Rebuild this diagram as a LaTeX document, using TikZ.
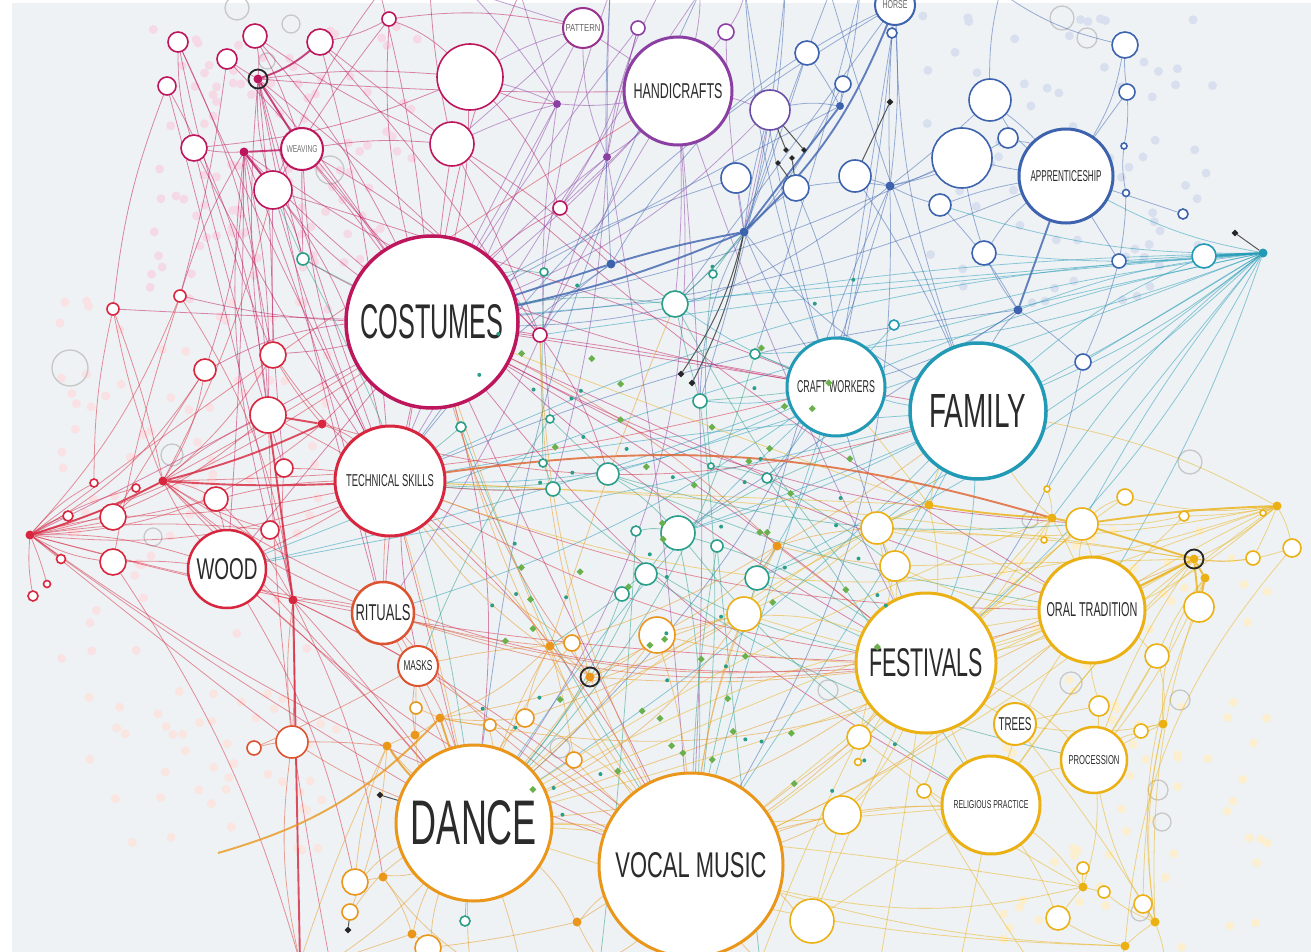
\documentclass[tikz,border=0pt]{standalone}
\usepackage{graphicx}
\usepackage{fontspec}
\newfontfamily\lab{Liberation Sans}
\usetikzlibrary{shapes.geometric}
\definecolor{bgc}{HTML}{EEF2F5}
\definecolor{mag}{HTML}{BE165C}
\definecolor{red}{HTML}{D7263D}
\definecolor{ored}{HTML}{DD5330}
\definecolor{org}{HTML}{E9961B}
\definecolor{yel}{HTML}{EBB114}
\definecolor{tea}{HTML}{2299B5}
\definecolor{blu}{HTML}{3D63AE}
\definecolor{pur}{HTML}{8B3FA3}
\definecolor{grn}{HTML}{2A9E88}
\definecolor{lgr}{HTML}{6AB04C}
\definecolor{txt}{HTML}{2B2B2B}
\pgfdeclarelayer{bgl}
\pgfdeclarelayer{edges}
\pgfsetlayers{bgl,edges,main}
\newcommand\lbl[3]{\resizebox{#1pt}{#2pt}{\lab #3}}
\newcommand\smallc[5]{\node[sn=#5, minimum size=#4pt] (#1) at (#2,#3) {};}
% thin connectors: given bend plus a small varying bend
\newcommand\edgeset[2]{\foreach \ea/\eb/\ec in {#2}{\pgfmathsetmacro\bb{\ec+22*(rnd-0.5)}\draw[#1] (\ea) to[bend left=\bb] (\eb);}}
% fixed-bend connectors
\newcommand\edgesetx[2]{\foreach \ea/\eb/\ec in {#2}{\draw[#1] (\ea) to[bend left=\ec] (\eb);}}
\tikzset{
  sn/.style={circle, draw=#1, fill=white, line width=1.6pt, inner sep=0pt, outer sep=0pt},
  bn/.style={circle, draw=#1, fill=white, line width=3pt, inner sep=0pt, outer sep=0pt, text=txt},
  hub/.style={circle, fill=#1, inner sep=0pt, outer sep=0pt, minimum size=9pt},
  ring/.style={circle, draw=black!85, line width=1.8pt, inner sep=0pt, minimum size=19pt},
  e/.style={draw=#1, line width=0.8pt, opacity=0.5},
  E/.style={draw=#1, line width=1.9pt, opacity=0.8},
  dk/.style={draw=black!80, line width=1pt, opacity=0.8},
  dmd/.style={diamond, fill=black!85, inner sep=0pt, minimum size=7pt},
}
\begin{document}
\begin{tikzpicture}[x=1pt,y=-1pt]
\useasboundingbox (0,0) rectangle (1311,952);
\clip (0,0) rectangle (1311,952);
\begin{pgfonlayer}{bgl}
\fill[white] (0,0) rectangle (1311,952);
\fill[bgc] (12,3) rectangle (1311,952);
% faint dot clouds
\pgfmathsetseed{11}
\foreach \i in {1,...,110}{
  \pgfmathsetmacro\px{150+270*rnd}\pgfmathsetmacro\py{25+300*rnd}
  \fill[mag!16] (\px,\py) circle (4.5pt);}
\foreach \i in {1,...,80}{
  \pgfmathsetmacro\px{60+270*rnd}\pgfmathsetmacro\py{300+360*rnd}
  \fill[red!14] (\px,\py) circle (4.5pt);}
\foreach \i in {1,...,45}{
  \pgfmathsetmacro\px{80+260*rnd}\pgfmathsetmacro\py{690+160*rnd}
  \fill[ored!15] (\px,\py) circle (4.5pt);}
\foreach \i in {1,...,75}{
  \pgfmathsetmacro\px{920+300*rnd}\pgfmathsetmacro\py{15+290*rnd}
  \fill[blu!20] (\px,\py) circle (4.5pt);}
\foreach \i in {1,...,90}{
  \pgfmathsetmacro\px{1000+270*rnd}\pgfmathsetmacro\py{530+420*rnd}
  \fill[yel!20] (\px,\py) circle (4.5pt);}
\foreach \i in {1,...,60}{
  \pgfmathsetmacro\px{480+420*rnd}\pgfmathsetmacro\py{300+500*rnd}
  \fill[grn!10] (\px,\py) circle (4pt);}
% faint rings
\foreach \x/\y/\r in {70/368/18, 237/8/12, 291/24/9, 267/61/8, 1062/18/12, 1087/38/10,
  1190/462/12, 1071/683/11, 1158/790/10, 1162/822/9, 1140/912/9, 172/455/11, 153/537/9,
  330/170/14, 1180/700/10, 828/690/10, 560/748/10, 1030/520/8}{
  \draw[black!22, line width=1.3pt] (\x,\y) circle (\r pt);}
\end{pgfonlayer}

% ===== labelled nodes =====
\node[bn=mag, minimum size=172pt, line width=3.5pt] (costumes) at (432,322) {\lbl{143}{34}{COSTUMES}};
\node[bn=tea, minimum size=136pt, line width=3.5pt] (family) at (978,411) {\lbl{97}{33}{FAMILY}};
\node[bn=org, minimum size=156pt] (dance) at (474,823) {\lbl{126}{44}{DANCE}};
\node[bn=org, minimum size=184pt] (vocal) at (691,865) {\lbl{151}{25}{VOCAL MUSIC}};
\node[bn=yel, minimum size=140pt] (festivals) at (926,663) {\lbl{114}{28}{FESTIVALS}};
\node[bn=pur, minimum size=108pt] (handicrafts) at (678,91) {\lbl{89}{15}{HANDICRAFTS}};
\node[bn=blu, minimum size=94pt] (apprent) at (1066,176) {\lbl{71}{11}{APPRENTICESHIP}};
\node[bn=tea, minimum size=98pt] (craft) at (836,387) {\lbl{78}{12}{CRAFT WORKERS}};
\node[bn=red, minimum size=110pt] (techskills) at (390,481) {\lbl{88}{12}{TECHNICAL SKILLS}};
\node[bn=red, minimum size=78pt, line width=2.5pt] (wood) at (227,569) {\lbl{61}{21}{WOOD}};
\node[bn=ored, minimum size=62pt, line width=2.5pt] (rituals) at (383,613) {\lbl{55}{16}{RITUALS}};
\node[bn=ored, minimum size=40pt, line width=2pt] (masks) at (418,666) {\lbl{29}{10}{MASKS}};
\node[bn=yel, minimum size=106pt] (oral) at (1092,610) {\lbl{91}{14}{ORAL TRADITION}};
\node[bn=yel, minimum size=42pt, line width=2pt] (trees) at (1015,724) {\lbl{33}{13}{TREES}};
\node[bn=yel, minimum size=66pt, line width=2.5pt] (procession) at (1094,760) {\lbl{51}{9}{PROCESSION}};
\node[bn=yel, minimum size=98pt] (religious) at (991,805) {\lbl{75}{8}{RELIGIOUS PRACTICE}};
\node[bn=mag, minimum size=42pt, line width=2pt, text=black!55] (weaving) at (302,149) {\lbl{31}{7}{WEAVING}};
\node[bn=pur!70!mag, minimum size=40pt, line width=2pt, text=black!60] (pattern) at (583,28) {\lbl{35}{7}{PATTERN}};
\node[bn=blu, minimum size=40pt, line width=2pt, text=black!60] (horse) at (895,5) {\lbl{25}{8}{HORSE}};

% ===== small circles =====
\smallc{a1}{178}{42}{20}{mag}\smallc{a2}{227}{59}{20}{mag}\smallc{a3}{255}{36}{24}{mag}
\smallc{a4}{320}{42}{26}{mag}\smallc{a5}{167}{86}{18}{mag}\smallc{a6}{194}{148}{26}{mag}
\smallc{a7}{273}{190}{38}{mag}\smallc{a8}{470}{77}{66}{mag}\smallc{a9}{452}{144}{44}{mag}
\smallc{a10}{389}{19}{14}{mag}\smallc{a11}{560}{208}{14}{mag}\smallc{a12}{540}{335}{14}{mag}
\smallc{a13}{180}{296}{12}{red}\smallc{a14}{113}{309}{12}{red}\smallc{a15}{205}{370}{22}{red}
\smallc{a16}{273}{355}{26}{red}\smallc{a17}{268}{415}{36}{red}\smallc{a18}{284}{468}{18}{red}
\smallc{a19}{216}{499}{24}{red}\smallc{a20}{113}{517}{26}{red}\smallc{a21}{113}{562}{26}{red}
\smallc{a22}{270}{530}{18}{red}\smallc{a23}{292}{742}{32}{ored}\smallc{a24}{254}{748}{14}{ored}
\smallc{a25}{94}{483}{8}{red}\smallc{a26}{68}{516}{10}{red}\smallc{a27}{61}{559}{9}{red}
\smallc{a28}{47}{584}{7}{red}\smallc{a29}{33}{596}{10}{red}\smallc{a30}{136}{488}{8}{red}
\smallc{b1}{638}{28}{14}{pur}\smallc{b2}{726}{32}{16}{pur}\smallc{b3}{770}{110}{40}{pur!60!blu}
\smallc{b4}{736}{178}{30}{blu}\smallc{b5}{796}{188}{26}{blu}\smallc{b6}{807}{53}{24}{blu}
\smallc{b7}{855}{176}{32}{blu}\smallc{b8}{843}{84}{16}{blu}\smallc{b9}{892}{33}{10}{blu}
\smallc{b10}{990}{100}{42}{blu}\smallc{b11}{962}{158}{60}{blu}\smallc{b12}{1008}{138}{20}{blu}
\smallc{b13}{940}{205}{22}{blu}\smallc{b14}{984}{253}{24}{blu}\smallc{b15}{1125}{45}{26}{blu}
\smallc{b16}{1127}{92}{16}{blu}\smallc{b17}{1119}{261}{14}{blu}\smallc{b18}{1183}{214}{10}{blu}
\smallc{b19}{1204}{256}{24}{tea}\smallc{b20}{1083}{362}{16}{blu}\smallc{b21}{894}{325}{10}{tea}
\smallc{b22}{1124}{146}{6}{blu}\smallc{b23}{1126}{193}{7}{blu}
\smallc{g1}{303}{259}{12}{grn}\smallc{g2}{675}{304}{26}{grn}\smallc{g3}{700}{401}{14}{grn}
\smallc{g4}{608}{474}{22}{grn}\smallc{g5}{553}{489}{14}{grn}\smallc{g6}{678}{533}{34}{grn}
\smallc{g7}{646}{574}{22}{grn}\smallc{g8}{757}{578}{24}{grn}\smallc{g9}{717}{546}{12}{grn}
\smallc{g10}{622}{594}{14}{grn}\smallc{g11}{461}{427}{10}{grn}\smallc{g12}{755}{354}{10}{grn}
\smallc{g13}{767}{478}{10}{grn}\smallc{g14}{636}{531}{10}{grn}\smallc{g15}{544}{272}{8}{grn}
\smallc{g16}{713}{274}{8}{grn}\smallc{g17}{550}{419}{8}{grn}\smallc{g18}{543}{463}{8}{grn}
\smallc{g19}{711}{466}{6}{grn}\smallc{g20}{465}{921}{10}{grn}
\smallc{y1}{877}{528}{32}{yel}\smallc{y2}{895}{566}{30}{yel}\smallc{y3}{1082}{524}{32}{yel}
\smallc{y4}{1125}{497}{16}{yel}\smallc{y5}{1199}{607}{30}{yel}\smallc{y6}{1253}{558}{14}{yel}
\smallc{y7}{1292}{548}{18}{yel}\smallc{y8}{1157}{656}{24}{yel}\smallc{y9}{1184}{516}{10}{yel}
\smallc{y11}{744}{614}{34}{yel}\smallc{y12}{859}{737}{24}{yel}\smallc{y13}{842}{815}{38}{yel}
\smallc{y14}{924}{791}{14}{yel}\smallc{y15}{1099}{706}{20}{yel}\smallc{y16}{1141}{731}{14}{yel}
\smallc{y17}{812}{921}{44}{yel}\smallc{y18}{1058}{918}{24}{yel}\smallc{y19}{1143}{904}{18}{yel}
\smallc{y20}{1083}{868}{12}{yel}\smallc{y21}{1104}{892}{12}{yel}\smallc{y22}{1047}{489}{6}{yel}
\smallc{y23}{1044}{540}{6}{yel}\smallc{y24}{1263}{513}{6}{yel}\smallc{y25}{858}{762}{7}{yel}
\smallc{o1}{657}{635}{36}{org}\smallc{o2}{572}{643}{16}{org}\smallc{o3}{525}{718}{18}{org}
\smallc{o4}{490}{725}{12}{org}\smallc{o5}{416}{708}{12}{org}\smallc{o6}{574}{760}{16}{org}
\smallc{o7}{355}{882}{26}{org}\smallc{o8}{350}{912}{16}{org}\smallc{o9}{428}{948}{26}{org}

% ===== hubs =====
\node[hub=mag] (m1) at (258,79) {};  \node[ring] at (m1) {};
\node[hub=mag] (m2) at (244,152) {};
\node[hub=red] (r1) at (30,535) {};  \node[hub=red] (r2) at (163,481) {};
\node[hub=red] (r3) at (322,424) {}; \node[hub=red] (r4) at (293,600) {};
\node[hub=pur, minimum size=8pt] (p1) at (557,104) {}; \node[hub=pur, minimum size=8pt] (p2) at (607,157) {};
\node[hub=blu] (hb1) at (611,264) {}; \node[hub=blu] (hb2) at (744,232) {};
\node[hub=blu, minimum size=8pt] (hb3) at (840,106) {}; \node[hub=blu] (hb4) at (890,186) {};
\node[hub=blu] (hb5) at (1018,310) {};
\node[hub=tea] (t1) at (1263,253) {};
\node[hub=yel] (hy1) at (929,505) {}; \node[hub=yel] (hy2) at (1052,518) {};
\node[hub=yel] (hy3) at (1277,506) {}; \node[hub=yel] (hy4) at (1194,559) {}; \node[ring] at (hy4) {};
\node[hub=yel] (hy5) at (1205,578) {}; \node[hub=yel] (hy6) at (1163,724) {};
\node[hub=yel] (hy7) at (1083,887) {}; \node[hub=yel] (hy8) at (1155,922) {};
\node[hub=yel] (hy9) at (1125,946) {};
\node[hub=org] (ho1) at (550,646) {}; \node[hub=org] (ho2) at (777,546) {};
\node[hub=org] (ho3) at (387,746) {}; \node[hub=org] (ho4) at (415,735) {};
\node[hub=org] (ho4b) at (440,718) {}; \node[hub=org] (ho5) at (383,877) {};
\node[hub=org] (ho6) at (412,934) {}; \node[hub=org] (ho7) at (577,922) {};
\node[hub=org] (k2) at (590,677) {}; \node[ring] at (k2) {};
% dark diamonds
\node[dmd] (d1) at (681,374) {}; \node[dmd] (d2) at (692,383) {};
\node[dmd] (d3) at (890,102) {}; \node[dmd] (d4) at (1235,233) {};
\node[dmd] (d5) at (380,795) {}; \node[dmd] (d6) at (348,930) {};
\node[dmd, minimum size=6pt] (d7) at (778,163) {}; \node[dmd, minimum size=6pt] (d8) at (792,158) {};
\node[dmd, minimum size=6pt] (d9) at (804,150) {}; \node[dmd, minimum size=6pt] (d10) at (786,150) {};
% free ends
\coordinate (T1) at (470,-8); \coordinate (T2) at (520,-8); \coordinate (T3) at (610,-8);
\coordinate (T4) at (700,-8); \coordinate (T5) at (745,-8); \coordinate (T6) at (785,-8);
\coordinate (T7) at (830,-8); \coordinate (T8) at (860,-8); \coordinate (T9) at (1000,-8);
\coordinate (T10) at (380,-8); \coordinate (T11) at (430,-8); \coordinate (T12) at (660,-8);
\coordinate (B1) at (300,962); \coordinate (B2) at (330,962); \coordinate (B3) at (520,962);
\coordinate (B4) at (600,962); \coordinate (B5) at (760,962); \coordinate (B6) at (880,962);
\coordinate (B7) at (960,962); \coordinate (B8) at (1120,962); \coordinate (B9) at (1165,962);
\coordinate (B10) at (470,962); \coordinate (B11) at (1030,962);
\coordinate (A1) at (218,853);

% small green diamonds and teal dots
\pgfmathsetseed{5}
\foreach \i in {1,...,45}{
  \pgfmathsetmacro\px{500+380*rnd}\pgfmathsetmacro\py{330+460*rnd}
  \fill[lgr] (\px,\py) +(0,3.5) -- +(3.5,0) -- +(0,-3.5) -- +(-3.5,0) -- cycle;}
\foreach \i in {1,...,45}{
  \pgfmathsetmacro\px{460+440*rnd}\pgfmathsetmacro\py{260+560*rnd}
  \fill[grn] (\px,\py) circle (2pt);}

% ===== connectors =====
\begin{pgfonlayer}{edges}
\pgfmathsetseed{21}
% magenta
\edgeset{e=mag}{m1/a2/0, m1/a3/0, m1/costumes/-5, m1/techskills/-8, m1/a7/0, m1/a16/5, m1/a8/2,
 m1/a12/-5, m1/a17/0, m1/rituals/5, m1/g1/0, m2/a6/0, m2/costumes/-5, m2/techskills/5, m2/a17/0,
 m2/rituals/0, m2/wood/5, m2/a15/0, m2/a16/-5, m2/craft/-10, m2/a13/0, m2/a22/0,
 a1/techskills/0, a1/a16/0, a5/a17/5, a5/r4/5, a2/costumes/0, a3/weaving/0, a3/a9/-5,
 a4/techskills/5, a4/a12/0, a4/a10/0, weaving/costumes/0, weaving/a9/-3, weaving/techskills/0,
 weaving/a12/0, weaving/festivals/-10, a6/techskills/0, a6/a8/-10, a7/costumes/0, a7/a18/0,
 a7/techskills/0, a7/g1/0, a7/craft/-5, a8/costumes/0, a8/a11/0, a8/p1/0, a9/costumes/0,
 a9/oral/-10, a9/a12/0, a10/pattern/5, a10/costumes/0, a10/a7/0, costumes/a11/0, costumes/a12/0,
 costumes/a16/0, costumes/a15/0, costumes/a14/0, costumes/a13/0, costumes/g1/0, costumes/craft/-5,
 costumes/family/-8, costumes/festivals/-5, costumes/dance/5, costumes/vocal/0, costumes/oral/-5,
 costumes/y1/-5, costumes/wood/0, costumes/rituals/5, costumes/r1/10, costumes/y3/-10,
 costumes/religious/-5, costumes/masks/0, costumes/T10/0, costumes/T2/0, a12/g4/0, a11/g2/0,
 a5/a14/0, a1/a6/0, a2/a13/5, T11/a9/0, T10/a7/0, a3/costumes/5, a4/a9/0, a1/a17/5,
 a10/a8/0, weaving/g1/0, a6/a18/0, m1/handicrafts/-5, a9/hb1/0}
\edgesetx{E=mag}{m1/a4/-10, m1/weaving/0, m2/weaving/0, m2/a7/0}
% purple
\edgeset{e=pur}{handicrafts/p1/0, p1/a8/0, p1/a9/0, p1/costumes/0, p1/T2/0, p2/handicrafts/0,
 p2/costumes/0, p2/a11/0, p2/T3/0, pattern/handicrafts/-5, pattern/costumes/0, pattern/a9/0,
 b1/costumes/5, b1/p2/0, b2/hb2/0, b2/a11/0, handicrafts/b3/0, handicrafts/costumes/5,
 b3/costumes/0, b3/hb2/0, pattern/p2/0, handicrafts/dance/10, handicrafts/vocal/-5,
 handicrafts/g2/0, handicrafts/festivals/-10, p2/vocal/5, handicrafts/T4/0, b2/T5/0,
 p1/techskills/0, pattern/T1/0, p2/rituals/5, handicrafts/a12/0, T12/p2/0, T1/p1/0,
 T3/g15/0, T4/techskills/0, b1/a11/0, p1/g17/0, p2/g5/0, pattern/a8/0}
% blue
\edgeset{e=blu}{hb2/b3/0, hb2/b4/0, hb2/b5/0, hb3/b6/0, hb3/b8/0, hb3/b3/0,
 hb4/b7/0, hb4/b11/0, hb4/b5/0, hb4/costumes/10, hb4/horse/5, hb4/b13/0, hb4/b10/0, hb4/b9/0,
 hb5/family/0, hb5/craft/0, hb5/b14/0, hb5/b20/0, hb5/b13/0, hb5/techskills/-5, apprent/b11/0,
 apprent/b10/0, apprent/b16/0, apprent/b15/0, apprent/b17/0, apprent/b12/0, apprent/costumes/10,
 apprent/b18/0, apprent/b14/0, apprent/b13/0, horse/hb1/-10, horse/craft/5, horse/g2/-5,
 b6/hb2/5, b15/b16/0, b16/b22/0, b22/b23/0, b23/b17/0, b17/b20/0, b10/T9/0, b11/b14/0,
 b20/festivals/5, hb2/T6/0, hb2/T7/0, hb3/T8/0, hb1/T3/0, hb2/craft/0, hb2/g3/-5,
 hb1/techskills/0, hb1/a12/0, b4/costumes/0, b5/craft/0, b7/family/0, b11/costumes/5,
 hb4/dance/5, hb4/vocal/5, b12/hb4/0, b10/apprent/0, hb3/costumes/5, hb2/family/-5,
 b15/T9/0, hb5/g6/0, hb4/g8/0, T5/craft/0, T6/g3/0, T7/family/0, T8/g12/0, T4/dance/-5,
 T5/festivals/5, horse/techskills/-8, horse/family/0, b9/craft/0, b8/g2/0}
\edgesetx{E=blu}{hb1/costumes/0, hb2/costumes/5, hb5/apprent/0, hb2/hb1/-3, horse/hb2/12, hb3/hb2/0}
\edgesetx{dk}{d1/hb2/-10, d2/hb2/-8, d7/b5/0, d8/b5/0, d9/b3/0, d10/b3/0, d3/b7/0, d4/t1/0, d5/dance/0, d6/o8/0}
% teal
\edgeset{e=tea}{t1/apprent/0, t1/family/0, t1/craft/0, t1/b17/0, t1/b14/0, t1/b20/0, t1/y3/0,
 t1/oral/0, t1/techskills/-3, t1/g2/-3, t1/costumes/-5, t1/hb5/0, t1/y1/0, t1/b21/0, t1/hy2/0,
 t1/g8/0, t1/g6/0, t1/festivals/0, t1/a12/-5, t1/b13/0, craft/family/0, craft/g2/0, craft/g8/0,
 family/festivals/0, family/y1/0, family/dance/-5, family/vocal/0, craft/vocal/5,
 craft/techskills/5, craft/dance/0, craft/g3/0, family/g6/0, family/techskills/5, family/wood/5,
 craft/wood/5, craft/rituals/5, b21/craft/0, b19/family/0, t1/wood/-2, t1/g4/-3, t1/g12/0,
 t1/y22/0, family/y2/0, craft/g13/0}
\edgesetx{E=tea}{t1/b19/0}
% green
\edgeset{e=grn}{g2/hb2/0, g3/craft/0, g4/techskills/0, g6/festivals/0, g6/g7/0, g7/g10/0,
 g8/festivals/0, g5/techskills/0, g1/costumes/0, g1/a7/0, g9/vocal/0, g13/y2/0, g4/g6/0,
 g6/vocal/0, g8/vocal/0, g10/dance/0, g7/dance/0, g11/techskills/0, g12/craft/0, g14/g6/0,
 g4/oral/-5, g6/family/0, g2/costumes/0, g3/g2/0, g17/g4/0, g18/g5/0, g15/costumes/0,
 g16/hb2/0, g19/g13/0, g8/y1/0, g10/ho1/0, g20/dance/0, g6/religious/0, g7/procession/-5,
 g4/y3/-5, g5/festivals/-5, g2/festivals/5, g3/vocal/5, g12/dance/5, g1/dance/5, g11/vocal/0,
 g14/B4/0, g9/B5/0, g15/g18/0, g16/g19/0, g17/masks/0, g13/religious/0}
% red
\edgeset{e=red}{r1/a20/0, r1/a21/0, r1/techskills/-8, r1/wood/0, r1/a17/-10, r1/a19/0, r1/a25/0,
 r1/a26/0, r1/a27/0, r1/a28/0, r1/a29/0, r1/rituals/0, r1/costumes/-10, r1/a23/0, r1/festivals/-5,
 r1/a15/-5, r1/a30/0, r1/r3/-8, r1/dance/0, r1/vocal/0, r1/a22/0, r2/a17/0, r2/a19/0,
 r2/costumes/-5, r2/wood/0, r2/a22/0, r2/a20/0, r2/craft/-10, r2/r4/0, r2/rituals/0, r2/dance/5,
 r2/a16/-5, r2/a14/5, r2/festivals/-8, r2/a15/0, r3/techskills/0, r3/costumes/0, r3/a16/0,
 r3/family/-5, r4/wood/0, r4/rituals/0, r4/masks/0, r4/dance/0, r4/ho5/0, r4/a23/0, r4/a22/0,
 r4/vocal/0, r4/a19/0, techskills/festivals/-5, techskills/oral/-8, techskills/dance/0,
 techskills/vocal/0, techskills/wood/0, techskills/a19/0, techskills/a18/0, techskills/a22/0,
 techskills/g5/0, wood/a21/0, wood/a22/0, wood/dance/0, wood/vocal/0, wood/a19/0, wood/o7/0,
 a13/a21/0, a14/r2/5, a16/techskills/0, a17/techskills/0, a17/B2/5, a13/r4/5, a18/r4/0,
 a14/a25/0, a15/a20/0, a21/B1/0, r1/a13/0, r1/handicrafts/-8, r2/a7/0, a20/techskills/0}
\edgesetx{E=red}{r1/r2/-5, r2/r3/-5, r2/techskills/-3, r3/a17/0, r4/a17/0, r4/B1/0}
% orange-red
\edgeset{e=ored}{rituals/masks/0, rituals/dance/0, rituals/techskills/0, rituals/ho1/0,
 masks/dance/0, masks/ho4/0, a23/dance/0, a23/r4/0, costumes/ho2/5, ho2/festivals/0, a24/a23/0,
 rituals/vocal/0, masks/vocal/0, a23/ho3/0, rituals/festivals/-5, masks/a24/0, costumes/k2/0,
 a23/B1/0, rituals/oral/-5}
\edgesetx{E=ored!85!yel}{techskills/hy2/12}
% orange
\edgeset{e=org}{dance/ho3/0, dance/ho4/0, dance/ho1/0, dance/vocal/0, dance/o3/0, dance/o4/0,
 dance/o2/0, dance/k2/0, dance/ho5/0, dance/ho6/0, dance/o7/0, dance/o8/0, dance/o9/0, dance/ho7/0,
 dance/festivals/-5, dance/y11/-3, dance/o1/0, dance/techskills/0, dance/B2/0, dance/B3/0,
 dance/B10/0, vocal/ho1/0, vocal/k2/0, vocal/o1/0, vocal/y11/0, vocal/festivals/0, vocal/ho7/0,
 vocal/o6/0, vocal/y13/0, vocal/y17/0, vocal/ho2/0, vocal/costumes/0, vocal/religious/0,
 vocal/oral/0, vocal/B4/0, vocal/B5/0, vocal/y12/0, vocal/o3/0, k2/ho1/0, k2/o1/0, k2/y11/0,
 k2/festivals/-5, k2/a12/0, k2/o2/0, k2/techskills/0, ho1/o2/0, ho1/masks/0, ho1/costumes/0,
 ho1/techskills/0, ho1/ho2/-5, ho1/o3/0, ho1/ho4b/0, ho3/o7/0, ho3/o8/0, ho3/ho4/0,
 ho4/ho4b/0, ho4b/o3/0, ho4b/o5/0, ho4b/o4/0, ho4b/y11/-5, ho4b/oral/-10, ho5/o7/0, ho5/ho6/0,
 ho6/o9/0, ho6/B2/0, ho7/o9/0, ho7/B4/0, o1/y11/0, o1/festivals/0, o1/ho2/0, o6/ho1/0,
 o5/masks/0, o5/ho4/0, ho2/y1/0, ho2/y2/0, ho2/family/0, ho2/g8/0, ho3/B1/0, ho5/B10/0,
 dance/hy4/-5, vocal/a12/5, ho1/g2/0, o2/techskills/0, o3/y11/0, ho7/y13/0}
\edgesetx{E=org}{A1/ho4b/-15, dance/ho4b/0, dance/ho3/5}
% yellow
\edgeset{e=yel}{hy1/y1/0, hy1/family/0, hy1/costumes/5, hy1/techskills/5, hy1/festivals/0,
 hy1/craft/0, hy2/oral/0, hy2/festivals/0, hy2/y22/0, hy2/y23/0, hy2/family/0, y3/y4/0, y3/oral/0,
 y3/festivals/0, y3/y9/0, hy3/y9/0, hy3/y4/0, hy3/oral/0, hy3/festivals/5, hy3/y1/5, hy3/family/0,
 hy3/techskills/8, hy3/hy4/0, hy3/y6/0, hy3/y7/0, hy3/dance/0, hy3/y24/0, hy4/y6/0, hy4/y7/-5,
 hy4/festivals/0, hy4/religious/0, hy4/vocal/0, hy4/dance/5, hy4/y2/0, hy4/procession/0,
 hy4/y1/0, hy4/techskills/5, hy5/y8/0, hy5/hy6/-10, hy5/procession/0, hy5/hy8/-20,
 oral/festivals/0, oral/y8/0, oral/religious/0, oral/y1/0, oral/y2/0, oral/dance/0, oral/y15/0,
 oral/y3/0, festivals/y1/0, festivals/y2/0, festivals/y12/0, festivals/y13/0,
 festivals/religious/0, festivals/trees/0, festivals/procession/0, festivals/y14/0,
 festivals/y17/0, festivals/y11/0, festivals/B6/0, trees/hy8/5, trees/hy6/0, trees/y15/0,
 procession/y15/0, procession/y16/0, procession/hy6/0, procession/hy7/0, procession/religious/0,
 procession/hy8/0, procession/y8/0, religious/y14/0, religious/hy7/0, religious/y17/0,
 religious/y18/0, religious/dance/5, religious/B7/0, religious/y13/0, hy6/y16/0, hy6/hy8/-10,
 hy6/y19/0, hy7/y18/0, hy7/y20/0, hy7/vocal/5, hy7/dance/5, hy7/y21/0, hy7/y12/0, hy8/y19/0,
 hy8/y21/0, hy8/hy9/0, hy8/B9/0, hy9/y18/0, hy9/dance/5, hy9/vocal/3, hy9/B8/0, y7/hy9/-25,
 y5/hy8/-10, y13/y17/0, y12/y2/0, y11/y1/0, y11/festivals/0, y2/y1/0, y8/procession/0,
 y8/hy6/0, hy2/dance/0, y3/vocal/0, y1/dance/0, y25/festivals/0, y14/B11/0, y12/B5/0,
 hy3/religious/0, hy4/y13/0, y4/festivals/0, y9/oral/0, hy1/y11/0, hy2/vocal/0}
\edgesetx{E=yel}{hy1/hy2/-3, hy2/y3/0, y3/hy3/3, y3/hy4/0, hy4/hy5/0, hy4/oral/0, hy4/y5/0, hy5/y5/0}
\end{pgfonlayer}
\end{tikzpicture}
\end{document}
